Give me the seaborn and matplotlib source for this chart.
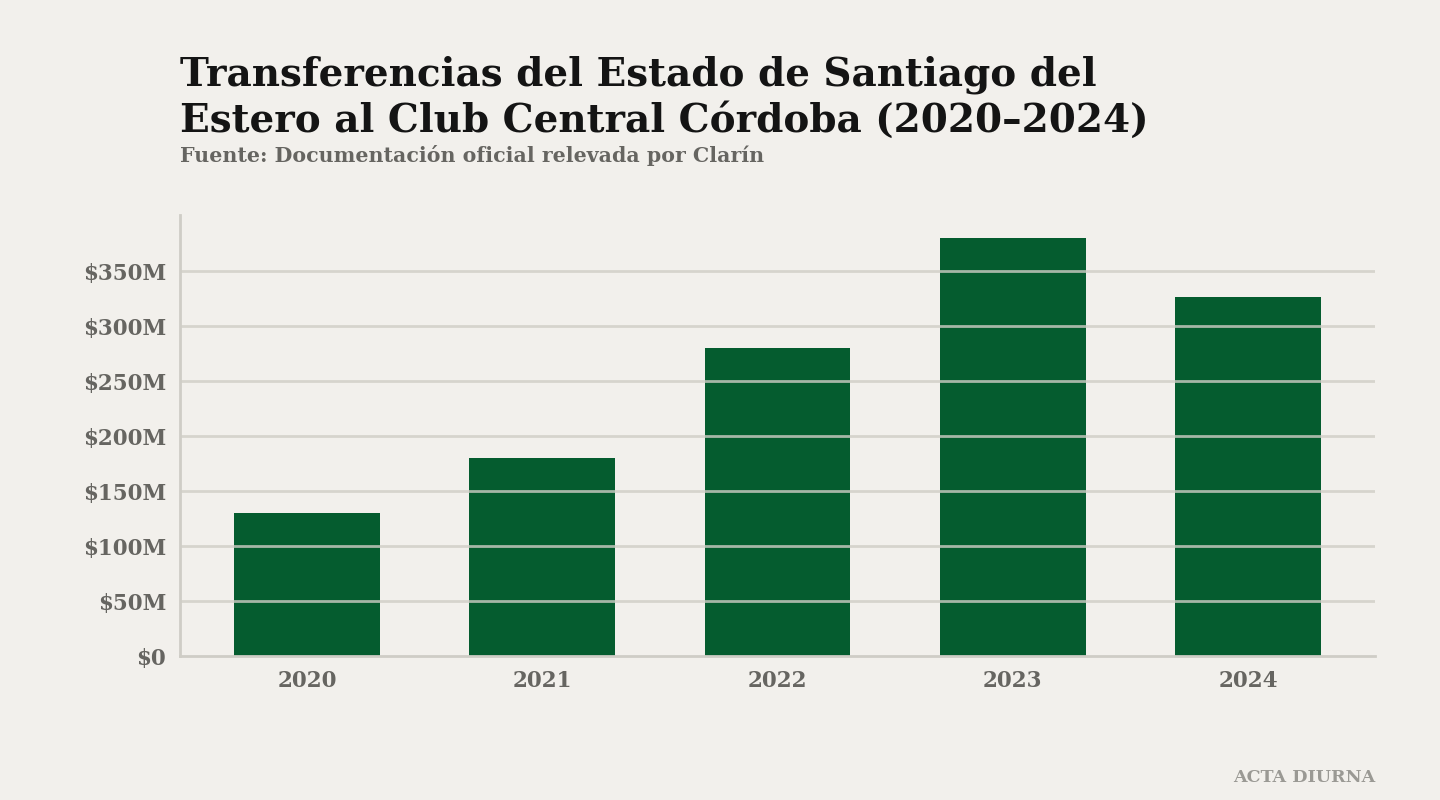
import matplotlib.pyplot as plt
import seaborn as sns
import pandas as pd

# values (millions of pesos)
years = ["2020", "2021", "2022", "2023", "2024"]
amounts = [130, 180, 280, 380, 326]
y_ticks = [0, 50, 100, 150, 200, 250, 300, 350]
y_tick_labels = ["$0", "$50M", "$100M", "$150M", "$200M", "$250M", "$300M", "$350M"]

bg = "#F2F0EC"
bar_color = "#055C2F"
grid_color = "#D0CEC6"
label_gray = "#666561"

sns.set_theme(style="white")
plt.rcParams["font.family"] = ["DejaVu Serif"]
plt.rcParams["font.weight"] = "bold"

df = pd.DataFrame({"year": years, "amount": amounts})

fig = plt.figure(figsize=(14.4, 8), dpi=100, facecolor=bg)
ax = fig.add_axes([0.125, 0.18, 0.8299, 0.55125], facecolor=bg)

sns.barplot(data=df, x="year", y="amount", color=bar_color, saturation=1,
            width=0.62, edgecolor="none", linewidth=0, ax=ax, zorder=3)

ax.set_ylim(0, 401)
ax.set_xlim(-0.54, 4.54)
ax.set_yticks(y_ticks)
ax.set_yticklabels(y_tick_labels)
ax.set_xlabel("")
ax.set_ylabel("")

# gridlines sit on top of the bars, semi-transparent
for t in y_ticks[1:]:
    ax.axhline(t, color=grid_color, lw=2, alpha=0.8, zorder=4)
ax.tick_params(axis="both", length=0, labelsize=15.5, labelcolor=label_gray, pad=10)
for lab in ax.get_xticklabels() + ax.get_yticklabels():
    lab.set_fontweight("bold")

for side in ["top", "right"]:
    ax.spines[side].set_visible(False)
for side in ["left", "bottom"]:
    ax.spines[side].set_color("#CFCDC6")
    ax.spines[side].set_linewidth(2)
    ax.spines[side].set_zorder(5)

fig.text(0.125, 1 - 86 / 800, "Transferencias del Estado de Santiago del",
         fontsize=28, fontweight="bold", color="#141414", va="baseline")
fig.text(0.125, 1 - 132 / 800, "Estero al Club Central Córdoba (2020–2024)",
         fontsize=28, fontweight="bold", color="#141414", va="baseline")
fig.text(0.125, 1 - 162 / 800, "Fuente: Documentación oficial relevada por Clarín",
         fontsize=14.8, fontweight="bold", color=label_gray, va="baseline")
fig.text(1375 / 1440, 1 - 782 / 800, "ACTA DIURNA",
         fontsize=12.6, fontweight="bold", color="#9A9994", ha="right", va="baseline")

fig.savefig("out.png", dpi=100, facecolor=bg)
